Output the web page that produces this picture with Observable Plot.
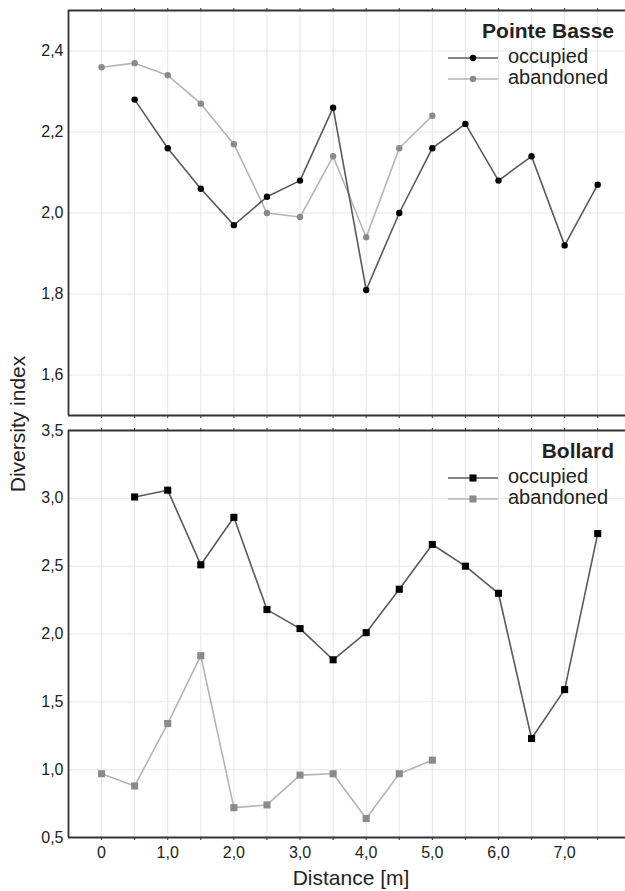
<!DOCTYPE html>
<html><head><meta charset="utf-8">
<script src="https://cdn.jsdelivr.net/npm/d3@7"></script>
<script src="https://cdn.jsdelivr.net/npm/@observablehq/plot@0.6"></script>
<style>
body{margin:0;background:#fff;}
#wrap{position:relative;width:625px;height:891px;font-family:"Liberation Sans",Arial,sans-serif;color:#222;overflow:hidden;background:#fff}
.panel{position:absolute;left:0;}
.ylab{position:absolute;left:18px;top:424px;transform:translate(-50%,-50%) rotate(-90deg);font-size:21px;white-space:nowrap;color:#222}
.xlab{position:absolute;left:351px;top:867px;transform:translateX(-50%);font-size:21px;white-space:nowrap;color:#222;line-height:21px}
</style></head><body><div id="wrap"></div><script>
// ---- data ----
const seriesNames = ["occupied", "abandoned"];
const distOccupied = [0.5, 1.0, 1.5, 2.0, 2.5, 3.0, 3.5, 4.0, 4.5, 5.0, 5.5, 6.0, 6.5, 7.0, 7.5];
const distAbandoned = [0, 0.5, 1.0, 1.5, 2.0, 2.5, 3.0, 3.5, 4.0, 4.5, 5.0];
const pbOccupied = [2.28, 2.16, 2.06, 1.97, 2.04, 2.08, 2.26, 1.81, 2.00, 2.16, 2.22, 2.08, 2.14, 1.92, 2.07];
const pbAbandoned = [2.36, 2.37, 2.34, 2.27, 2.17, 2.00, 1.99, 2.14, 1.94, 2.16, 2.24];
const bolOccupied = [3.01, 3.06, 2.51, 2.86, 2.18, 2.04, 1.81, 2.01, 2.33, 2.66, 2.50, 2.30, 1.23, 1.59, 2.74];
const bolAbandoned = [0.97, 0.88, 1.34, 1.84, 0.72, 0.74, 0.96, 0.97, 0.64, 0.97, 1.07];
const xTickMarks = [0, 0.5, 1.0, 1.5, 2.0, 2.5, 3.0, 3.5, 4.0, 4.5, 5.0, 5.5, 6.0, 6.5, 7.0, 7.5];
const pbYTicks = [1.6, 1.8, 2.0, 2.2, 2.4];
const bolYTicks = [0.5, 1.0, 1.5, 2.0, 2.5, 3.0, 3.5];
const panelTitles = ["Pointe Basse", "Bollard"];

const occColorLine = "#5a5a5a", occColorDot = "#000";
const abColorLine = "#b4b4b4", abColorDot = "#8a8a8a";
const frameColor = "#333";
const gridColor = "#e6e6e6";
const fmt = d => d === 0 ? "0" : d.toFixed(1).replace(".", ",");
const xDomain = [-0.5, 7.92];

function panel({occ, ab, yDomain, yTicks, symbol, r, height, marginTop, marginBottom, xLabels}) {
  const occData = distOccupied.map((x, i) => ({x, y: occ[i]}));
  const abData = distAbandoned.map((x, i) => ({x, y: ab[i]}));
  return Plot.plot({
    width: 625, height, marginTop, marginBottom, marginLeft: 68, marginRight: 0,
    style: {fontFamily: "Liberation Sans, Arial, sans-serif", fontSize: "16px", color: "#222", background: "transparent"},
    x: {domain: xDomain},
    y: {domain: yDomain},
    marks: [
      Plot.gridX(xTickMarks, {stroke: gridColor, strokeOpacity: 1, strokeWidth: 1}),
      Plot.gridY(yTicks, {stroke: gridColor, strokeOpacity: 1, strokeWidth: 1}),
      Plot.axisY(yTicks, {tickSize: 0, tickPadding: 5, tickFormat: fmt, label: null, fontSize: 16, fill: "#222"}),
      Plot.axisX(xTickMarks, {anchor: "top", tickSize: 3, tickFormat: () => "", label: null, stroke: frameColor}),
      xLabels
        ? Plot.axisX(xTickMarks, {anchor: "bottom", tickSize: 3, tickPadding: 6, tickFormat: d => Number.isInteger(d) ? fmt(d) : "", label: null, stroke: frameColor, fontSize: 16, fill: "#222"})
        : Plot.axisX(xTickMarks, {anchor: "bottom", tickSize: 3, tickFormat: () => "", label: null, stroke: frameColor}),
      Plot.ruleX([xDomain[0]], {stroke: frameColor, strokeWidth: 1.8}),
      Plot.ruleY([yDomain[0], yDomain[1]], {stroke: frameColor, strokeWidth: 1.8}),
      Plot.line(abData, {x: "x", y: "y", stroke: abColorLine, strokeWidth: 1.6}),
      Plot.dot(abData, {x: "x", y: "y", fill: abColorDot, r, symbol}),
      Plot.line(occData, {x: "x", y: "y", stroke: occColorLine, strokeWidth: 1.6}),
      Plot.dot(occData, {x: "x", y: "y", fill: occColorDot, r, symbol})
    ]
  });
}

const wrap = document.getElementById("wrap");

const top1 = panel({occ: pbOccupied, ab: pbAbandoned, yDomain: [1.5, 2.5], yTicks: pbYTicks, symbol: "circle", r: 3.2, height: 420, marginTop: 10, marginBottom: 5, xLabels: false});
top1.classList.add("panel"); top1.style.top = "0px";
wrap.appendChild(top1);

const bot1 = panel({occ: bolOccupied, ab: bolAbandoned, yDomain: [0.5, 3.5], yTicks: bolYTicks, symbol: "square", r: 4, height: 471, marginTop: 10, marginBottom: 54, xLabels: true});
bot1.classList.add("panel"); bot1.style.top = "420px";
wrap.appendChild(bot1);

// legends
const ov = d3.select(wrap).append("svg").attr("width", 625).attr("height", 891)
  .style("position", "absolute").style("left", 0).style("top", 0).style("pointer-events", "none")
  .style("font-family", "Liberation Sans, Arial, sans-serif");
const frameTops = [10, 430];
const symbols = [d3.symbolCircle, d3.symbolSquare];
const symSize = [32, 50];
frameTops.forEach((ft, k) => {
  ov.append("text").attr("x", 614).attr("y", ft + 22).attr("text-anchor", "end").attr("dominant-baseline", "middle")
    .attr("font-size", 21).attr("font-weight", "bold").attr("fill", "#222").text(panelTitles[k]);
  seriesNames.forEach((name, j) => {
    const cy = ft + 48 + j * 21;
    ov.append("line").attr("x1", 448).attr("x2", 498).attr("y1", cy).attr("y2", cy)
      .attr("stroke", j === 0 ? occColorLine : abColorLine).attr("stroke-width", 1.6);
    ov.append("path").attr("transform", `translate(473,${cy})`).attr("d", d3.symbol(symbols[k], symSize[k])())
      .attr("fill", j === 0 ? occColorDot : abColorDot);
    ov.append("text").attr("x", 508).attr("y", cy).attr("dominant-baseline", "middle")
      .attr("font-size", 20).attr("fill", "#222").text(name);
  });
});

const yl = document.createElement("div"); yl.className = "ylab"; yl.textContent = "Diversity index"; wrap.appendChild(yl);
const xl = document.createElement("div"); xl.className = "xlab"; xl.textContent = "Distance [m]"; wrap.appendChild(xl);
</script></body></html>
